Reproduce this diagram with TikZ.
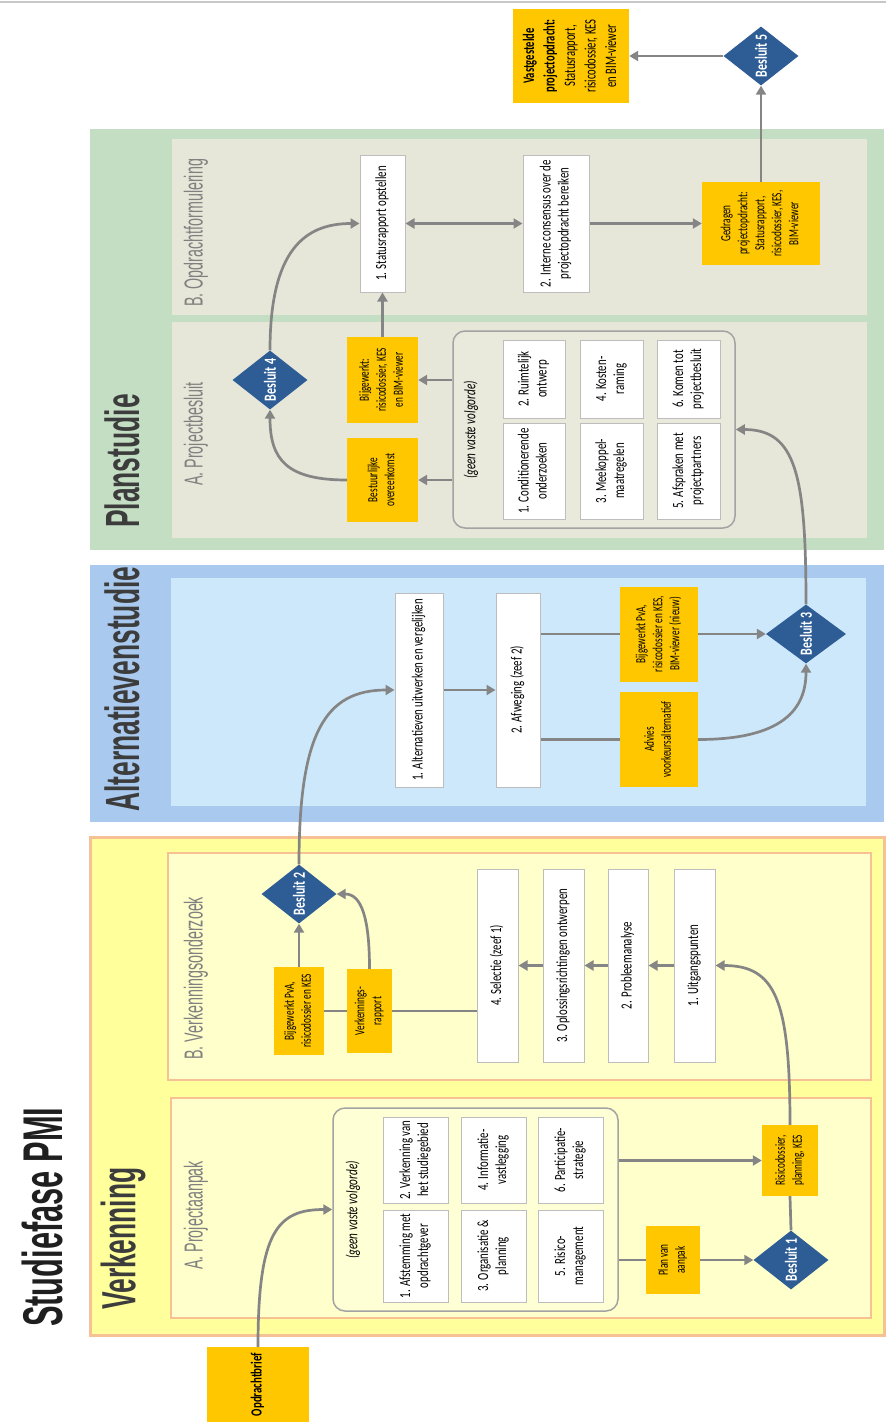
\documentclass[tikz,border=0pt]{standalone}
\usepackage{fontspec}
\usepackage{graphicx}
\setmainfont{Carlito}
\newfontfamily\boxfont[FakeStretch=0.70]{Carlito}
\newfontfamily\oranjefont[FakeStretch=0.66]{Carlito}
\newfontfamily\kopfont[FakeStretch=0.55]{Liberation Sans}
\usetikzlibrary{arrows.meta,calc,positioning,shapes.geometric}

\definecolor{oranje}{HTML}{FFC700}
\definecolor{besblauw}{HTML}{2E5D95}
\definecolor{pijlgrijs}{HTML}{858585}
\definecolor{randgrijs}{HTML}{BDBDBD}
\definecolor{groepgrijs}{HTML}{A3A3A3}
\definecolor{fasegrijs}{HTML}{3C3C3C}
\definecolor{deelgrijs}{HTML}{808080}
\definecolor{plangroen}{HTML}{C4DEC4}
\definecolor{planbeige}{HTML}{E6E7D8}
\definecolor{pgroepvul}{HTML}{E9E9DC}
\definecolor{altblauw}{HTML}{A9C9EE}
\definecolor{altlicht}{HTML}{CDE8FA}
\definecolor{verkgeel}{HTML}{FFFF9C}
\definecolor{verkbleek}{HTML}{FFFFCC}
\definecolor{verkrand}{HTML}{F6C194}
\definecolor{vgroepvul}{HTML}{FFFFD6}

% rotated text, lines stacked left to right
\newcommand{\rt}[1]{\rotatebox{90}{\begin{tabular}{@{}c@{}}#1\end{tabular}}}

\begin{document}
\begin{tikzpicture}[x=1pt,y=-1pt,
  fase/.style={anchor=south,inner sep=0pt,text=fasegrijs,font=\kopfont\bfseries\fontsize{48}{50}\selectfont},
  deel/.style={anchor=south,inner sep=0pt,text=deelgrijs,font=\kopfont\fontsize{26}{28}\selectfont},
  wit/.style={draw=randgrijs,line width=1pt,fill=white,inner sep=0pt,font=\boxfont\fontsize{15.5}{18}\selectfont},
  oranjebox/.style={fill=oranje,inner sep=0pt,font=\oranjefont\fontsize{14}{17}\selectfont},
  besluit/.style={diamond,aspect=1.25,fill=besblauw,text=white,inner sep=0pt,minimum width=75pt,minimum height=59pt,font=\boxfont\bfseries\fontsize{17}{20}\selectfont},
  groep/.style={draw=groepgrijs,line width=1.5pt,rounded corners=12pt,inner sep=0pt},
  volg/.style={inner sep=0pt,font=\boxfont\itshape\fontsize{16}{18}\selectfont},
  pijl/.style={draw=pijlgrijs,line width=2.7pt,-{Triangle[width=10pt,length=9pt]}},
  dpijl/.style={draw=pijlgrijs,line width=2.7pt,{Triangle[width=10pt,length=9pt]}-{Triangle[width=10pt,length=9pt]}},
  lijn/.style={draw=pijlgrijs,line width=2.7pt},
]
\useasboundingbox (0,0) rectangle (886,1424);
\draw[black!22,line width=2.5pt] (0,2) -- (886,2);

% fase-vlakken
\filldraw[fill=verkgeel,draw=verkrand,line width=3pt] (90,837) rectangle (884,1335);
\filldraw[fill=verkbleek,draw=verkrand,line width=2pt] (168,853) rectangle (871,1080);
\filldraw[fill=verkbleek,draw=verkrand,line width=2pt] (171,1098) rectangle (871,1318);
\fill[altblauw] (90,565) rectangle (884,822);
\fill[altlicht] (171,578) rectangle (866,806);
\fill[plangroen] (90,129) rectangle (884,550);
\fill[planbeige] (172,139) rectangle (867,315);
\fill[planbeige] (172,322) rectangle (867,538);

% koppen
\node[anchor=south,inner sep=0pt,text=black!88,font=\kopfont\bfseries\fontsize{56}{58}\selectfont] (titel) at (42,1327) {\rotatebox{90}{Studiefase PMI}};
\node[fase] (fverk) at (123,1310) {\rotatebox{90}{Verkenning}};
\node[fase] (falt) at (122,812) {\rotatebox{90}{Alternatievenstudie}};
\node[fase] (fplan) at (122,528) {\rotatebox{90}{Planstudie}};
\node[deel] (dva) at (196,1270) {\rotatebox{90}{A. Projectaanpak}};
\node[deel] (dvb) at (196,1060) {\rotatebox{90}{B. Verkenningsonderzoek}};
\node[deel] (dpa) at (196,486) {\rotatebox{90}{A. Projectbesluit}};
\node[deel] (dpb) at (196,307) {\rotatebox{90}{B. Opdrachtformulering}};

% Verkenning A
\node[groep,fill=vgroepvul,minimum width=285pt,minimum height=203pt] (vgroep) at (475.5,1209.5) {};
\node[volg] (vvolg) at (353,1210) {\rotatebox{90}{(geen vaste volgorde)}};
\node[wit,minimum width=65pt,minimum height=92pt] (v1) at (415.5,1256) {\rt{1. Afstemming met\\opdrachtgever}};
\node[wit,minimum width=65pt,minimum height=86pt] (v2) at (415.5,1160) {\rt{2. Verkenning van\\het studiegebied}};
\node[wit,minimum width=65pt,minimum height=92pt] (v3) at (493.5,1256) {\rt{3. Organisatie \&\\planning}};
\node[wit,minimum width=65pt,minimum height=86pt] (v4) at (493.5,1160) {\rt{4. Informatie-\\vastlegging}};
\node[wit,minimum width=65pt,minimum height=92pt] (v5) at (570.5,1256) {\rt{5. Risico-\\management}};
\node[wit,minimum width=65pt,minimum height=86pt] (v6) at (570.5,1160) {\rt{6. Participatie-\\strategie}};
\node[oranjebox,minimum width=102pt,minimum height=75pt,font=\boxfont\bfseries\fontsize{15.5}{18}\selectfont] (brief) at (258,1384.5) {\rt{Opdrachtbrief}};
\node[oranjebox,minimum width=54pt,minimum height=68pt] (pva) at (673,1260) {\rt{Plan van\\aanpak}};
\node[besluit] (b1) at (791,1260) {\rotatebox{90}{Besluit 1}};
\node[oranjebox,minimum width=56pt,minimum height=71pt] (risico) at (790,1160.5) {\rt{Risicodossier,\\planning, KES}};

% Verkenning B
\node[wit,minimum width=41pt,minimum height=193pt] (uitg) at (694.5,965.5) {\rt{1. Uitgangspunten}};
\node[wit,minimum width=40pt,minimum height=193pt] (prob) at (628,965.5) {\rt{2. Probleemanalyse}};
\node[wit,minimum width=41pt,minimum height=193pt] (opl) at (563.5,965.5) {\rt{3. Oplossingsrichtingen ontwerpen}};
\node[wit,minimum width=41pt,minimum height=193pt] (sel) at (497.5,965.5) {\rt{4. Selectie (zeef 1)}};
\node[oranjebox,minimum width=45pt,minimum height=84pt] (vrap) at (369.5,1011) {\rt{Verkennings-\\rapport}};
\node[oranjebox,minimum width=50pt,minimum height=88pt] (vbij) at (299,1011) {\rt{Bijgewerkt PvA,\\risicodossier en KES}};
\node[besluit] (b2) at (299,894) {\rotatebox{90}{Besluit 2}};

% Alternatievenstudie
\node[wit,minimum width=48pt,minimum height=194pt] (alt1) at (419,690) {\rt{1. Alternatieven uitwerken en vergelijken}};
\node[wit,minimum width=44pt,minimum height=194pt] (afw) at (518,690) {\rt{2. Afweging (zeef 2)}};
\node[oranjebox,minimum width=78pt,minimum height=95pt] (abij) at (659,634) {\rt{Bijgewerkt PvA,\\risicodossier en KES,\\BIM-viewer (nieuw)}};
\node[oranjebox,minimum width=78pt,minimum height=95pt] (adv) at (659,739.5) {\rt{Advies\\voorkeursalternatief}};
\node[besluit,minimum width=80pt] (b3) at (806,634) {\rotatebox{90}{Besluit 3}};

% Planstudie A
\node[groep,fill=pgroepvul,minimum width=282pt,minimum height=197pt] (pgroep) at (594,429.5) {};
\node[volg] (pvolg) at (471,430) {\rotatebox{90}{(geen vaste volgorde)}};
\node[wit,minimum width=62pt,minimum height=96pt] (p1) at (534,471) {\rt{1. Conditionerende\\onderzoeken}};
\node[wit,minimum width=62pt,minimum height=78pt] (p2) at (534,379) {\rt{2. Ruimtelijk\\ontwerp}};
\node[wit,minimum width=63pt,minimum height=96pt] (p3) at (611.5,471) {\rt{3. Meekoppel-\\maatregelen}};
\node[wit,minimum width=63pt,minimum height=78pt] (p4) at (611.5,379) {\rt{4. Kosten-\\raming}};
\node[wit,minimum width=63pt,minimum height=96pt] (p5) at (688.5,471) {\rt{5. Afspraken met\\projectpartners}};
\node[wit,minimum width=63pt,minimum height=78pt] (p6) at (688.5,379) {\rt{6. Komen tot\\projectbesluit}};
\node[oranjebox,minimum width=71pt,minimum height=86pt] (pbij) at (382.5,380) {\rt{Bijgewerkt:\\risicodossier, KES\\en BIM-viewer}};
\node[oranjebox,minimum width=71pt,minimum height=84pt] (pbest) at (382.5,480) {\rt{Bestuurlijke\\overeenkomst}};
\node[besluit] (b4) at (270,380) {\rotatebox{90}{Besluit 4}};

% Planstudie B
\node[wit,minimum width=45pt,minimum height=137pt] (stat) at (382.5,223.5) {\rt{1. Statusrapport opstellen}};
\node[wit,minimum width=66pt,minimum height=137pt] (cons) at (556,223.5) {\rt{2. Interne consensus over de\\projectopdracht bereiken}};
\node[oranjebox,minimum width=118pt,minimum height=83pt] (ged) at (761,223.5) {\rt{Gedragen\\projectopdracht:\\Statusrapport,\\risicodossier, KES,\\BIM-viewer}};
\node[besluit] (b5) at (761,56) {\rotatebox{90}{Besluit 5}};
\node[oranjebox,minimum width=116pt,minimum height=94pt,font=\oranjefont\fontsize{16}{20.5}\selectfont] (vast) at (571,56) {\rt{\textbf{Vastgestelde}\\\textbf{projectopdracht:}\\Statusrapport,\\risicodossier, KES\\en BIM-viewer}};

% verbindingen Verkenning
\draw[pijl] (brief.north) .. controls +(0,-115) and +(-55,0) .. (vgroep.west);
\draw[lijn] (vgroep.east |- pva.west) -- (pva.west);
\draw[pijl] (pva.east) -- (b1.west);
\draw[pijl] (vgroep.east |- risico.west) -- (risico.west);
\draw[lijn] (b1.north) -- (risico.south);
\draw[pijl] (risico.north) .. controls +(0,-125) and +(60,0) .. (uitg.east);
\draw[pijl] (uitg.west) -- (prob.east);
\draw[pijl] (prob.west) -- (opl.east);
\draw[pijl] (opl.west) -- (sel.east);
\draw[lijn] (sel.west |- vrap.east) -- (vrap.east);
\draw[lijn] (vrap.west) -- (vbij.east);
\draw[pijl] (vbij.north) -- (b2.south);
\draw[pijl] (vrap.north) .. controls +(0,-50) and +(25,0) .. (b2.east);

% verbindingen Alternatievenstudie
\draw[pijl] (b2.north) .. controls +(0,-130) and +(-70,0) .. (alt1.west);
\draw[pijl] (alt1.east) -- (afw.west);
\draw[lijn] (afw.east |- abij.west) -- (abij.west);
\draw[lijn] (afw.east |- adv.west) -- (adv.west);
\draw[pijl] (abij.east) -- (b3.west);
\draw[pijl] (adv.east) .. controls +(85,0) and +(0,45) .. (b3.south);

% verbindingen Planstudie
\draw[pijl] (b3.north) .. controls +(0,-130) and +(60,0) .. (pgroep.east);
\draw[pijl] (pgroep.west |- pbij.east) -- (pbij.east);
\draw[pijl] (pgroep.west |- pbest.east) -- (pbest.east);
\draw[pijl] (pbest.west) .. controls +(-60,0) and +(0,50) .. (b4.south);
\draw[pijl] (b4.north) .. controls +(0,-100) and +(-55,0) .. (stat.west);
\draw[pijl] (pbij.north) -- (stat.south);
\draw[dpijl] (stat.east) -- (cons.west);
\draw[pijl] (cons.east) -- (ged.west);
\draw[pijl] (ged.north) -- (b5.south);
\draw[pijl] (b5.west) -- (vast.east);
\end{tikzpicture}
\end{document}
